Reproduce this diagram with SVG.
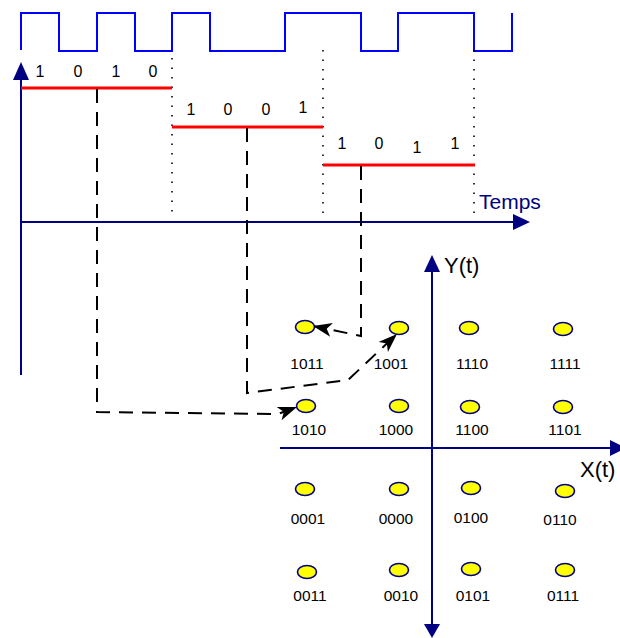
<svg xmlns="http://www.w3.org/2000/svg" width="620" height="638" viewBox="0 0 620 638">
<style>
.wave{fill:none;stroke:#0000ff;stroke-width:2}
.axis{fill:none;stroke:#000080;stroke-width:2}
.ah{fill:#000080}
.red{stroke:#ff0000;stroke-width:3}
.dot{stroke:#000;stroke-width:1.6;stroke-dasharray:1.6 7.9}
.dash{fill:none;stroke:#000;stroke-width:2;stroke-dasharray:14 9}
.bit{font-family:"Liberation Sans",Arial,sans-serif;font-size:16px;fill:#000;text-anchor:middle}
.lbl{font-family:"Liberation Sans",Arial,sans-serif;font-size:15.5px;fill:#000;text-anchor:middle}
.big{font-family:"Liberation Sans",Arial,sans-serif;font-size:22px;fill:#000}
.pt{fill:#ffff00;stroke:#000080;stroke-width:1.6}
</style>
<defs>
<marker id="arr" markerUnits="userSpaceOnUse" markerWidth="22" markerHeight="16" refX="19" refY="7" orient="auto">
<path d="M0,0 L19,7 L0,14 L5,7 z" fill="#000"/>
</marker>
</defs>
<g id="signal">
<path class="wave" d="M21,50 V13 H59 V51 H97 V13 H135 V51 H172 V13 H210 V51 H285 V13 H361 V51 H398 V13 H474 V51 H512 V13"/>
</g>
<g id="time-axes">
<path class="axis" d="M21,375 V76"/>
<path class="ah" d="M21,62 L29,80 L13,80 z"/>
<path class="axis" d="M21,222 H516"/>
<path class="ah" d="M530,222 L513,214 L513,230 z"/>
<text x="479" y="209" font-family="Liberation Sans,Arial,sans-serif" font-size="21" fill="#000080">Temps</text>
</g>
<g id="dotted">
<line class="dot" x1="172" y1="58" x2="172" y2="216"/>
<line class="dot" x1="323" y1="50" x2="323" y2="216"/>
<line class="dot" x1="474" y1="50" x2="474" y2="216"/>
</g>
<g id="symbol1">
<line class="red" x1="21" y1="88" x2="172" y2="88"/>
<text class="bit" x="40" y="77">1</text>
<text class="bit" x="78" y="77">0</text>
<text class="bit" x="116" y="77">1</text>
<text class="bit" x="153" y="77">0</text>
</g>
<g id="symbol2">
<line class="red" x1="172" y1="127" x2="323" y2="127"/>
<text class="bit" x="191" y="115">1</text>
<text class="bit" x="228" y="115">0</text>
<text class="bit" x="266" y="115">0</text>
<text class="bit" x="303" y="113">1</text>
</g>
<g id="symbol3">
<line class="red" x1="323" y1="165" x2="475" y2="165"/>
<text class="bit" x="342" y="149">1</text>
<text class="bit" x="379" y="149">0</text>
<text class="bit" x="417" y="153">1</text>
<text class="bit" x="455" y="149">1</text>
</g>
<g id="connectors">
<path class="dash" d="M97,89 V412 L278,414 L297,407" marker-end="url(#arr)"/>
<path class="dash" d="M247,128 V393 L348,380 L397,334" marker-end="url(#arr)"/>
<path class="dash" d="M361,166 V336 L313,326" marker-end="url(#arr)"/>
</g>
<g id="iq-axes">
<path class="axis" d="M432,270 V624"/>
<path class="ah" d="M432,255 L440,272 L424,272 z"/>
<path class="ah" d="M432,638 L440,624 L424,624 z"/>
<path class="axis" d="M280,448 H612"/>
<path class="ah" d="M626,448 L610,440 L610,456 z"/>
<text class="big" x="444" y="273">Y(t)</text>
<text class="big" x="580" y="477">X(t)</text>
</g>
<g id="p1011"><ellipse class="pt" cx="305" cy="327" rx="9.5" ry="6.5"/><text class="lbl" x="307" y="369">1011</text></g>
<g id="p1001"><ellipse class="pt" cx="399" cy="328" rx="9.5" ry="6.5"/><text class="lbl" x="391" y="369">1001</text></g>
<g id="p1110"><ellipse class="pt" cx="469" cy="328" rx="9.5" ry="6.5"/><text class="lbl" x="472" y="369">1110</text></g>
<g id="p1111"><ellipse class="pt" cx="563" cy="329" rx="9.5" ry="6.5"/><text class="lbl" x="565" y="369">1111</text></g>
<g id="p1010"><ellipse class="pt" cx="306" cy="406" rx="9.5" ry="6.5"/><text class="lbl" x="309" y="435">1010</text></g>
<g id="p1000"><ellipse class="pt" cx="399" cy="406" rx="9.5" ry="6.5"/><text class="lbl" x="396" y="435">1000</text></g>
<g id="p1100"><ellipse class="pt" cx="470" cy="407" rx="9.5" ry="6.5"/><text class="lbl" x="472" y="435">1100</text></g>
<g id="p1101"><ellipse class="pt" cx="563" cy="407" rx="9.5" ry="6.5"/><text class="lbl" x="565" y="435">1101</text></g>
<g id="p0001"><ellipse class="pt" cx="305" cy="489" rx="9.5" ry="6.5"/><text class="lbl" x="308" y="524">0001</text></g>
<g id="p0000"><ellipse class="pt" cx="399" cy="489" rx="9.5" ry="6.5"/><text class="lbl" x="396" y="524">0000</text></g>
<g id="p0100"><ellipse class="pt" cx="471" cy="488" rx="9.5" ry="6.5"/><text class="lbl" x="471" y="523">0100</text></g>
<g id="p0110"><ellipse class="pt" cx="565" cy="491" rx="9.5" ry="6.5"/><text class="lbl" x="560" y="525">0110</text></g>
<g id="p0011"><ellipse class="pt" cx="307" cy="572" rx="9.5" ry="6.5"/><text class="lbl" x="310" y="601">0011</text></g>
<g id="p0010"><ellipse class="pt" cx="399" cy="570" rx="9.5" ry="6.5"/><text class="lbl" x="401" y="601">0010</text></g>
<g id="p0101"><ellipse class="pt" cx="471" cy="569" rx="9.5" ry="6.5"/><text class="lbl" x="473" y="601">0101</text></g>
<g id="p0111"><ellipse class="pt" cx="565" cy="570" rx="9.5" ry="6.5"/><text class="lbl" x="563" y="601">0111</text></g>
</svg>
